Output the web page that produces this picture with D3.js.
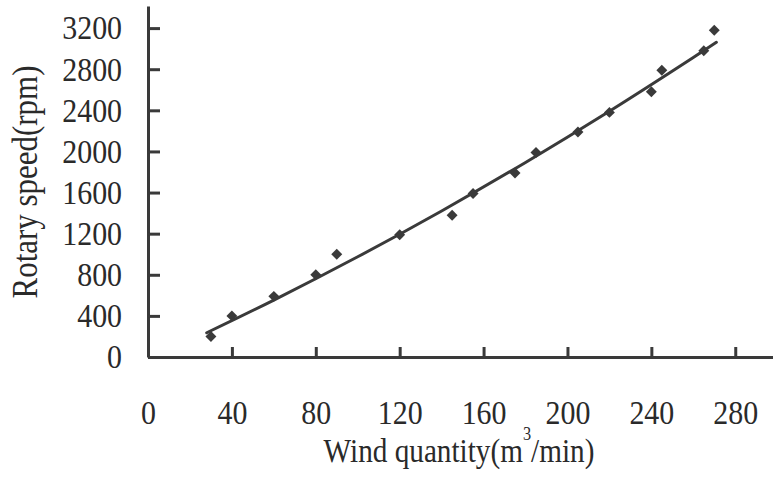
<!DOCTYPE html>
<html>
<head>
<meta charset="utf-8">
<script src="https://cdn.jsdelivr.net/npm/d3@7"></script>
<style>
    body { margin: 0; background: #fff; }
    svg { display: block; }
</style>
</head>
<body>
<svg id="chart" width="773" height="481"></svg>
<script>
// measured points (wind quantity vs rotary speed)
const windQty = [30, 40, 60, 80, 90, 120, 145, 155, 175, 185, 205, 220, 240, 245, 265, 270];
const rotarySpeed = [200, 400, 590, 800, 1000, 1190, 1380, 1590, 1790, 1990, 2190, 2380, 2580, 2790, 2980, 3180];

// fitted curve
const fitX = [28, 60, 100, 140, 180, 220, 260, 271];
const fitY = [236, 554, 975, 1421, 1893, 2391, 2914, 3062];

const xTicks = [0, 40, 80, 120, 160, 200, 240, 280];
const yTicks = [0, 400, 800, 1200, 1600, 2000, 2400, 2800, 3200];

const ink = "#3a3a3a";
const font = "'Liberation Serif', 'DejaVu Serif', serif";

const svg = d3.select("#chart");

const x = d3.scaleLinear().domain([0, 298]).range([148, 773]);
const y = d3.scaleLinear().domain([0, 3415]).range([357, 6]);

// y axis, ticks pointing inward
const yAxis = svg.append("g")
    .attr("transform", "translate(" + x(0) + ",0)")
    .call(d3.axisLeft(y).tickValues(yTicks).tickFormat(d3.format("d"))
        .tickSizeInner(-12).tickSizeOuter(0).tickPadding(29.5));

// x axis, ticks pointing up
const xAxis = svg.append("g")
    .attr("transform", "translate(0," + y(0) + ")")
    .call(d3.axisBottom(x).tickValues(xTicks).tickFormat(d3.format("d"))
        .tickSizeInner(-10).tickSizeOuter(0).tickPadding(43));

[xAxis, yAxis].forEach(function (g) {
    g.attr("font-family", font).attr("font-size", 34);
    g.select(".domain").attr("stroke", ink).attr("stroke-width", 3);
    g.selectAll(".tick line").attr("stroke", ink).attr("stroke-width", 3);
    g.selectAll(".tick text")
        .attr("fill", "#2a2a2a")
        .attr("transform", "scale(0.88,1)");
});

// no tick mark at the origin
xAxis.selectAll(".tick line").filter(function (d) {
    return d === 0;
}).remove();

// fitted line
const fit = fitX.map(function (d, i) {
    return [d, fitY[i]];
});

svg.append("path")
    .datum(fit)
    .attr("fill", "none")
    .attr("stroke", ink)
    .attr("stroke-width", 3)
    .attr("stroke-linecap", "round")
    .attr("d", d3.line()
        .x(function (d) { return x(d[0]); })
        .y(function (d) { return y(d[1]); })
        .curve(d3.curveCatmullRom));

// diamond markers
svg.append("g")
    .selectAll("path")
    .data(windQty)
    .enter()
    .append("path")
    .attr("transform", function (d, i) {
        return "translate(" + x(d) + "," + y(rotarySpeed[i]) + ") rotate(45)";
    })
    .attr("d", d3.symbol().type(d3.symbolSquare).size(60))
    .attr("fill", ink);

// axis titles
const xTitle = svg.append("g")
    .attr("transform", "translate(459,462) scale(0.86,1)")
    .append("text")
    .attr("text-anchor", "middle")
    .attr("font-family", font)
    .attr("font-size", 34)
    .attr("fill", "#2a2a2a");

xTitle.append("tspan").text("Wind quantity(m");
xTitle.append("tspan").attr("font-size", 19).attr("dy", -22).text("3");
xTitle.append("tspan").attr("dy", 22).text("/min)");

svg.append("g")
    .attr("transform", "translate(37,182) rotate(-90) scale(0.86,1)")
    .append("text")
    .attr("text-anchor", "middle")
    .attr("font-family", font)
    .attr("font-size", 36)
    .attr("fill", "#2a2a2a")
    .text("Rotary speed(rpm)");
</script>
</body>
</html>
